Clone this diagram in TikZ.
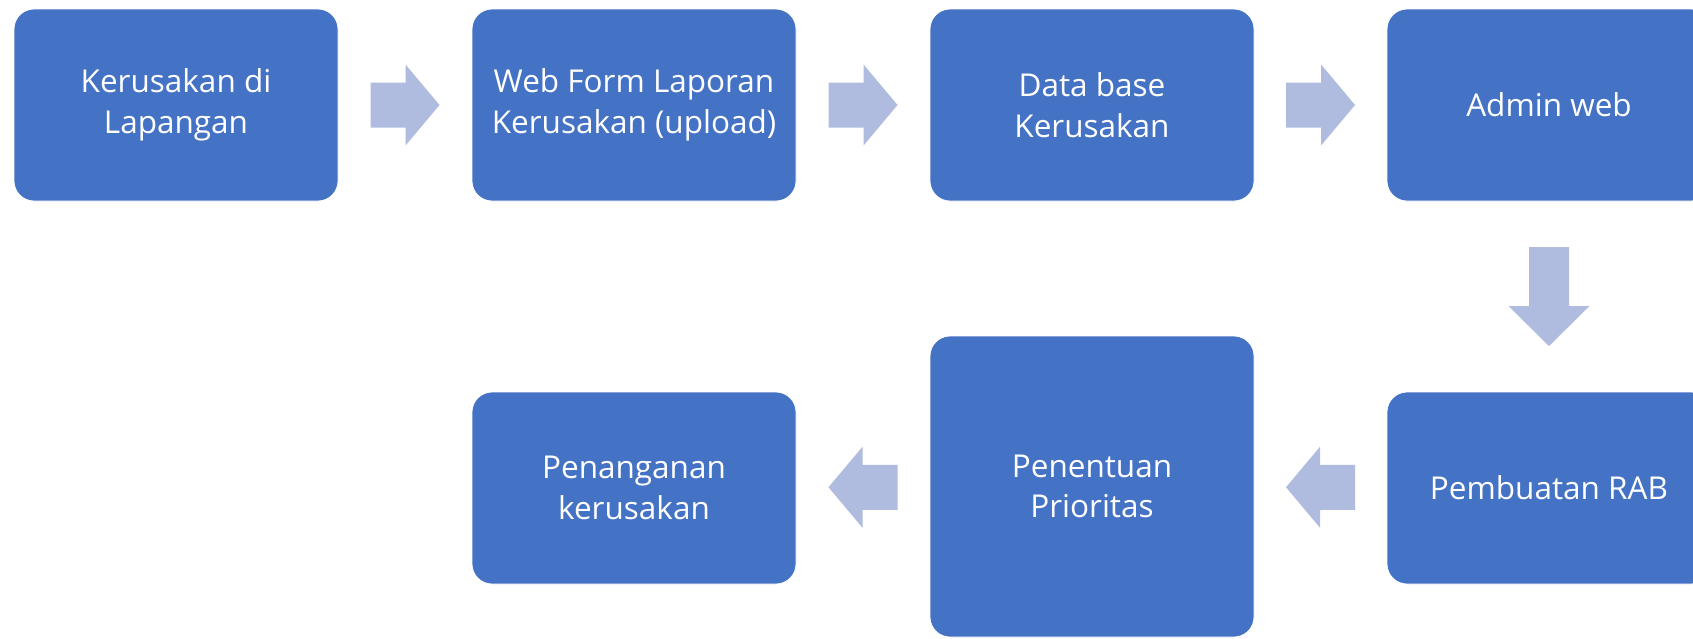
\documentclass[tikz,border=0pt]{standalone}
\usepackage{fontspec}
\setmainfont{Open Sans}
\usetikzlibrary{calc}
\definecolor{boxblue}{HTML}{4472C4}
\definecolor{arrowblue}{HTML}{AFBBDF}
\tikzset{
  stepbox/.style={fill=boxblue, draw=white, line width=0.8pt, rounded corners=20pt,
    minimum width=324pt, minimum height=192pt, text=white,
    font=\fontsize{31.5}{40.5}\selectfont, align=center, inner sep=0pt},
  tallbox/.style={stepbox, minimum height=301pt},
  flowarrow/.pic={\fill[arrowblue] (-34.5,-22.5) -- (0.5,-22.5) -- (0.5,-40.5) -- (34.5,0)
      -- (0.5,40.5) -- (0.5,22.5) -- (-34.5,22.5) -- cycle;},
  downflow/.pic={\fill[arrowblue] (-20,-49.5) -- (20,-49.5) -- (20,9.5) -- (40.5,9.5)
      -- (0,49.5) -- (-40.5,9.5) -- (-20,9.5) -- cycle;}
}
\begin{document}
\begin{tikzpicture}[x=1pt,y=-1pt]
\useasboundingbox (0,0) rectangle (1693,638);
\clip (0,0) rectangle (1693,638);
\node[stepbox] (b1) at (176,105) {Kerusakan di\\Lapangan};
\node[stepbox] (b2) at (634,105) {Web Form Laporan\\Kerusakan (upload)};
\node[stepbox] (b3) at (1092,105) {Data base\\Kerusakan};
\node[stepbox] (b4) at (1549,105) {Admin web};
\node[stepbox] (b5) at (1549,488) {Pembuatan RAB};
\node[tallbox] (b6) at (1092,486.5) {Penentuan\\Prioritas};
\node[stepbox] (b7) at (634,488) {Penanganan\\kerusakan};
\pic at ($(b1.east)!0.5!(b2.west)$) {flowarrow};
\pic at ($(b2.east)!0.5!(b3.west)$) {flowarrow};
\pic at ($(b3.east)!0.5!(b4.west)$) {flowarrow};
\pic at ($(b4.south)!0.5!(b5.north)$) {downflow};
\pic[rotate=180] at ($(b5.west)!0.5!(b6.east)$) {flowarrow};
\pic[rotate=180] at ($(b6.west)!0.5!(b7.east)$) {flowarrow};
\end{tikzpicture}
\end{document}
